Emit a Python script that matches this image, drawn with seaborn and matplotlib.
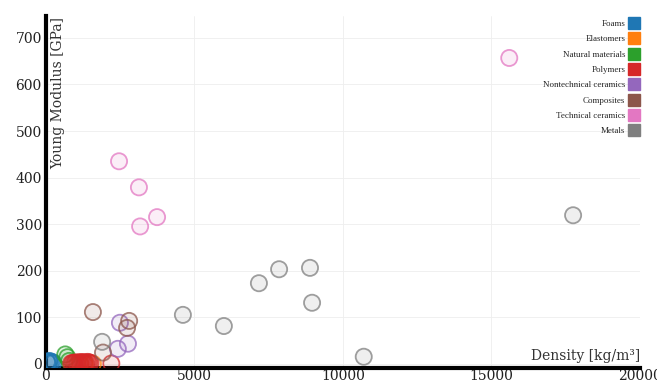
import matplotlib
matplotlib.use("Agg")
import matplotlib.pyplot as plt
from matplotlib.lines import Line2D
import seaborn as sns
import numpy as np
import pandas as pd

categories = ["Foams", "Elastomers", "Natural materials", "Polymers",
              "Nontechnical ceramics", "Composites", "Technical ceramics", "Metals"]

foams_density = [30, 60, 100, 150, 200, 250, 120]
foams_modulus = [4, 2, 5, 3, 4, 2, 6]
elastomers_density = [1150, 1300, 1580]
elastomers_modulus = [0.5, 0.1, 0.05]
natural_density = [650, 720, 780]
natural_modulus = [20, 14, 6]
polymers_density = [850, 900, 950, 1000, 1050, 1100, 1150, 1200, 1250, 1300,
                    1350, 1400, 1450, 1500, 2200]
polymers_modulus = [1, 2, 1.5, 3, 2, 2.5, 3, 3.5, 2.5, 3, 2, 4, 3, 2, 0.5]
nontech_density = [2490, 2760, 2420]
nontech_modulus = [88, 43, 32]
composites_density = [1580, 2800, 2730, 1920]
composites_modulus = [111, 92, 77, 24]
techceram_density = [2460, 3130, 3740, 3170, 15600]
techceram_modulus = [435, 379, 315, 295, 657]
metals_density = [1890, 4610, 5990, 7170, 7850, 8890, 8960, 10700, 17750]
metals_modulus = [47, 105, 81, 173, 203, 206, 131, 15, 319]

densities = [foams_density, elastomers_density, natural_density, polymers_density,
             nontech_density, composites_density, techceram_density, metals_density]
moduli = [foams_modulus, elastomers_modulus, natural_modulus, polymers_modulus,
          nontech_modulus, composites_modulus, techceram_modulus, metals_modulus]

rows = []
for cat, d, m in zip(categories, densities, moduli):
    for x, y in zip(d, m):
        rows.append({"Density": x, "Modulus": y, "Material": cat})
df = pd.DataFrame(rows)

palette = dict(zip(categories, sns.color_palette("tab10", len(categories))))

sns.set_style("white")
plt.rcParams["font.family"] = ["DejaVu Serif"]

fig = plt.figure(figsize=(6.57, 3.83), dpi=100)
ax = fig.add_axes([0.070, 0.040, 0.904, 0.918])

sns.scatterplot(data=df, x="Density", y="Modulus", hue="Material",
                hue_order=categories, palette=palette, s=135,
                linewidth=1.3, legend=False, ax=ax, zorder=3)

# open circles: light fill, semi-transparent outline
coll = ax.collections[0]
fc = np.array(coll.get_facecolors())
ec = fc.copy()
ec[:, 3] = 0.75
fc[:, 3] = 0.12
coll.set_edgecolors(ec)
coll.set_facecolors(fc)

ax.set_xlim(0, 20000)
ax.set_ylim(-8.5, 747)
ax.set_xticks([0, 5000, 10000, 15000, 20000])
ax.set_yticks([0, 100, 200, 300, 400, 500, 600, 700])
ax.tick_params(axis="y", length=0, labelsize=10, pad=3, colors="#222222")
ax.tick_params(axis="x", length=0, labelsize=10, pad=1, colors="#222222")
ax.grid(True, color="#eeeeee", linewidth=0.6, zorder=0)

for side in ["top", "right"]:
    ax.spines[side].set_visible(False)
for side in ["left", "bottom"]:
    ax.spines[side].set_linewidth(3)
    ax.spines[side].set_color("black")

ax.set_xlabel("")
ax.set_ylabel("")
ax.text(0.008, 0.998, "Young Modulus [GPa]", transform=ax.transAxes,
        rotation=90, ha="left", va="top", fontsize=10, color="#333333")
ax.text(1.0, 0.012, "Density [kg/m\u00b3]", transform=ax.transAxes,
        ha="right", va="bottom", fontsize=10, color="#333333")

handles = [Line2D([0], [0], marker="s", linestyle="", markersize=8.8,
                  markerfacecolor=palette[c], markeredgecolor=palette[c], label=c)
           for c in categories]
leg = ax.legend(handles=handles, loc="upper right", bbox_to_anchor=(1.0, 0.995),
                frameon=False, markerfirst=False,
                prop={"family": "Liberation Serif", "size": 6.5},
                labelspacing=0.78, handlelength=1.0, handletextpad=0.4,
                borderaxespad=0.0, borderpad=0.2)

fig.savefig("out.png", dpi=100)
